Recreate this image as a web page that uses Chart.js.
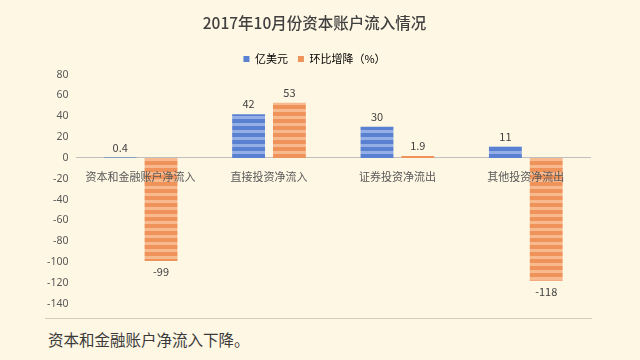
<!DOCTYPE html>
<html><head><meta charset="utf-8">
<script src="https://cdn.jsdelivr.net/npm/chart.js@4.4.1/dist/chart.umd.min.js"></script>
<style>
html,body{margin:0;padding:0;background:#fef7e4;width:640px;height:360px;overflow:hidden;font-family:"Noto Sans CJK SC","Noto Sans",sans-serif;}
#wrap{position:absolute;left:0;top:0;width:640px;height:318px;}
#rule{position:absolute;left:45px;top:318px;width:547px;height:0;border-top:1px solid #d6cdb8;}
#note{position:absolute;left:48px;top:328px;font-size:15.5px;color:#3a3a3a;line-height:22px;}
</style></head>
<body>
<div id="wrap"><canvas id="c"></canvas></div>
<div id="rule"></div>
<div id="note">资本和金融账户净流入下降。</div>
<script>
const titleText = "2017年10月份资本账户流入情况";
const categories = ["资本和金融账户净流入", "直接投资净流入", "证券投资净流出", "其他投资净流出"];
const seriesNames = ["亿美元", "环比增降（%）"];
const usdValues = [0.4, 42, 30, 11];
const pctValues = [-99, 53, 1.9, -118];
const usdLabels = ["0.4", "42", "30", "11"];
const pctLabels = ["-99", "53", "1.9", "-118"];
const yTicks = [80, 60, 40, 20, 0, -20, -40, -60, -80, -100, -120, -140];

function stripe(dark, light) {
  const c = document.createElement('canvas');
  c.width = 4; c.height = 7;
  const g = c.getContext('2d');
  g.fillStyle = dark; g.fillRect(0, 0, 4, 7);
  g.fillStyle = light; g.fillRect(0, 4, 4, 3);
  return g.createPattern(c, 'repeat');
}
const ctx = document.getElementById('c').getContext('2d');
const bluePat = stripe('#5a80d2', '#93afe6');
const orangePat = stripe('#f0935a', '#f7ba8f');

const valueLabels = {
  id: 'valueLabels',
  afterDatasetsDraw(chart) {
    const g = chart.ctx;
    g.save();
    g.font = '11px "Noto Sans CJK SC", sans-serif';
    g.fillStyle = '#404040';
    g.textAlign = 'center';
    g.textBaseline = 'middle';
    const labs = [usdLabels, pctLabels];
    chart.data.datasets.forEach((ds, i) => {
      chart.getDatasetMeta(i).data.forEach((bar, j) => {
        const v = ds.data[j];
        const y = v >= 0 ? Math.min(bar.y, bar.base) - 10 : Math.max(bar.y, bar.base) + 11;
        g.fillText(labs[i][j], bar.x, y);
      });
    });
    g.restore();
  }
};

new Chart(ctx, {
  type: 'bar',
  data: {
    labels: categories,
    datasets: [
      { label: seriesNames[0], data: usdValues, backgroundColor: bluePat, borderWidth: 0 },
      { label: seriesNames[1], data: pctValues, backgroundColor: orangePat, borderWidth: 0 }
    ]
  },
  options: {
    responsive: true,
    maintainAspectRatio: false,
    animation: false,
    layout: { padding: { left: 39, right: 50, top: 0, bottom: 8 } },
    datasets: { bar: { categoryPercentage: 0.636, barPercentage: 0.805 } },
    plugins: {
      title: { display: true, text: titleText, color: '#404040',
        font: { size: 15.5, family: '"Noto Sans CJK SC", sans-serif', weight: '500' },
        padding: { top: 14, bottom: 11 } },
      legend: { display: true, position: 'top',
        labels: { boxWidth: 6, boxHeight: 6, color: '#595959', padding: 10,
          font: { size: 11, family: '"Noto Sans CJK SC", sans-serif' },
          generateLabels(chart) {
            return chart.data.datasets.map((d, i) => ({
              text: d.label, fillStyle: i === 0 ? '#5a80d2' : '#f0935a',
              strokeStyle: 'transparent', lineWidth: 0, datasetIndex: i
            }));
          } } },
      tooltip: { enabled: false }
    },
    scales: {
      x: {
        position: { y: 0 },
        grid: { display: false },
        border: { display: true, color: '#bfbfbf', width: 1 },
        ticks: { z: 1, color: '#595959', font: { size: 11, family: '"Noto Sans CJK SC", sans-serif' }, padding: 4, maxRotation: 0 }
      },
      y: {
        min: -140, max: 80,
        afterBuildTicks(scale) { scale.ticks = yTicks.map(v => ({ value: v })); },
        grid: { display: false, drawTicks: false },
        border: { display: false },
        ticks: { color: '#595959', font: { size: 10.5, family: '"Noto Sans", sans-serif' }, padding: 8 }
      }
    }
  },
  plugins: [valueLabels]
});
</script>
</body></html>
